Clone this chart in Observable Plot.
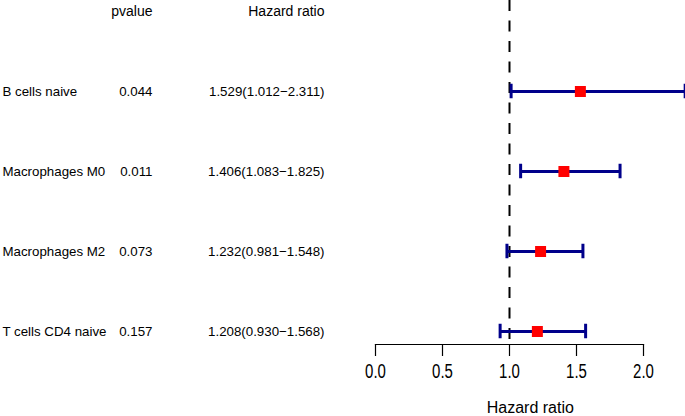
<!DOCTYPE html>
<html><head><meta charset="utf-8">
<script src="https://cdn.jsdelivr.net/npm/d3@7"></script>
<script src="https://cdn.jsdelivr.net/npm/@observablehq/plot@0.6"></script>
<style>body{margin:0;background:#fff} svg{display:block}</style>
</head><body><div id="chart"></div>
<script>
const cells = ["B cells naive", "Macrophages M0", "Macrophages M2", "T cells CD4 naive"];
const pvalues = ["0.044", "0.011", "0.073", "0.157"];
const hr = [1.529, 1.406, 1.232, 1.208];
const lower = [1.012, 1.083, 0.981, 0.930];
const upper = [2.311, 1.825, 1.548, 1.568];
const xTicks = [0, 0.5, 1, 1.5, 2];
const headerP = "pvalue";
const headerHR = "Hazard ratio";
const xLabel = "Hazard ratio";

const rows = cells.map((c, i) => ({
  cell: c, p: pvalues[i], hr: hr[i], lo: lower[i], hi: upper[i],
  label: `${hr[i].toFixed(3)}(${lower[i].toFixed(3)}\u2212${upper[i].toFixed(3)})`
}));
const HEADER = "__header__";
const font = "'Liberation Sans', Arial, Helvetica, sans-serif";
const left = 375;
const step = 80.5;
const capInset = step / 2 - 7.5;
const rowFont = 13.3;
const headFont = 14;

const chart = Plot.plot({
  width: 685,
  height: 416,
  marginLeft: left,
  marginRight: 42,
  marginTop: 0,
  marginBottom: 72,
  style: {fontFamily: font, background: "#fff", color: "#000"},
  x: {domain: [0, 2]},
  y: {type: "band", domain: [HEADER, ...cells], range: [10 - step / 2, 332 + step / 2], padding: 0, axis: null},
  marks: [
    Plot.ruleX([1], {stroke: "#000", strokeWidth: 2, strokeDasharray: "11,9.5", strokeDashoffset: 0}),
    Plot.frame({anchor: "bottom", stroke: "#000", strokeWidth: 1.2}),
    Plot.axisX({ticks: xTicks, tickFormat: d => d.toFixed(1), tickSize: 12, tickPadding: 7, fontSize: 15, label: null, strokeWidth: 1.2}),
    Plot.text([xLabel], {x: () => d3.max(upper) / 2, frameAnchor: "bottom", dy: 68, fontSize: 16, fill: "#000", ariaLabel: "x label"}),
    Plot.ruleY(rows, {y: "cell", x1: "lo", x2: "hi", stroke: "#00008B", strokeWidth: 3}),
    Plot.tickX(rows, {x: "lo", y: "cell", stroke: "#00008B", strokeWidth: 3, insetTop: capInset, insetBottom: capInset}),
    Plot.tickX(rows, {x: "hi", y: "cell", stroke: "#00008B", strokeWidth: 3, insetTop: capInset, insetBottom: capInset}),
    Plot.dot(rows, {x: "hr", y: "cell", symbol: "square", r: 6.2, fill: "#FF0000", stroke: null}),
    Plot.text(rows, {y: "cell", text: "cell", frameAnchor: "left", dx: 2 - left, textAnchor: "start", fontSize: rowFont, fill: "#000", ariaLabel: "table text"}),
    Plot.text(rows, {y: "cell", text: "p", frameAnchor: "left", dx: 152 - left, textAnchor: "end", fontSize: rowFont, fill: "#000", ariaLabel: "table text"}),
    Plot.text(rows, {y: "cell", text: "label", frameAnchor: "left", dx: 324 - left, textAnchor: "end", fontSize: rowFont, fill: "#000", ariaLabel: "table text"}),
    Plot.text([headerP], {y: () => HEADER, frameAnchor: "left", dx: 152 - left, textAnchor: "end", fontSize: headFont, fill: "#000", ariaLabel: "table text"}),
    Plot.text([headerHR], {y: () => HEADER, frameAnchor: "left", dx: 324 - left, textAnchor: "end", fontSize: headFont, fill: "#000", ariaLabel: "table text"})
  ]
});

// the reference's glyphs are vertically stretched; reproduce that aspect
const stretch = {"table text": 1.2, "x-axis tick label": 1.4, "x label": 1.3};
for (const [label, s] of Object.entries(stretch)) {
  chart.querySelectorAll(`g[aria-label="${label}"] text`).forEach(t => {
    const tr = t.getAttribute("transform");
    if (tr) t.setAttribute("transform", `${tr} scale(1,${s})`);
  });
}
document.getElementById("chart").appendChild(chart);
</script>
</body></html>
